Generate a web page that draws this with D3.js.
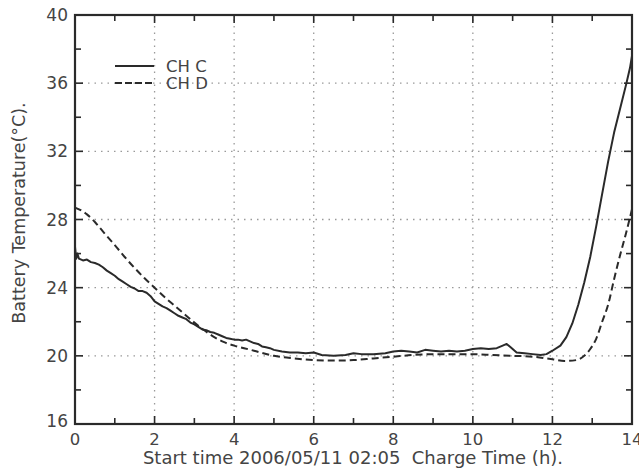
<!DOCTYPE html>
<html>
<head>
<meta charset="utf-8">
<style>
  body { margin: 0; padding: 0; background: #fff; }
  svg { display: block; font-family: "DejaVu Sans", Verdana, sans-serif; }
</style>
<script src="https://d3js.org/d3.v7.min.js"></script>
</head>
<body>
<svg id="chart" width="639" height="472"></svg>
<script>
// CH C (solid) — hours and temperature
const hoursC = [0, 0.03, 0.06, 0.1, 0.2, 0.3, 0.4, 0.5, 0.6, 0.7, 0.8, 0.9, 1.0, 1.1, 1.2, 1.3, 1.4, 1.5, 1.6, 1.7,
  1.8, 1.9, 2.0, 2.1, 2.2, 2.3, 2.4, 2.5, 2.6, 2.7, 2.8, 2.9, 3.0, 3.1, 3.2, 3.3, 3.4, 3.5, 3.6, 3.7,
  3.8, 3.9, 4.0, 4.1, 4.2, 4.3, 4.4, 4.5, 4.6, 4.7, 4.8, 4.9, 5.0, 5.2, 5.4, 5.6, 5.8, 6.0, 6.2, 6.5,
  6.8, 7.0, 7.2, 7.5, 7.8, 8.0, 8.2, 8.4, 8.6, 8.8, 9.0, 9.2, 9.4, 9.6, 9.8, 10.0, 10.2, 10.4, 10.6, 10.75,
  10.85, 10.95, 11.1, 11.3, 11.5, 11.7, 11.85, 12.0, 12.2, 12.35, 12.5, 12.65, 12.8, 12.95, 13.1, 13.25, 13.4, 13.55, 13.7, 13.85,
  13.95, 14.0];
const tempC = [26.4, 25.7, 26.0, 25.7, 25.6, 25.65, 25.5, 25.45, 25.35, 25.2, 25.0, 24.85, 24.7, 24.5, 24.35, 24.2, 24.05, 23.95, 23.8, 23.8,
  23.7, 23.5, 23.2, 23.05, 22.9, 22.8, 22.65, 22.5, 22.35, 22.25, 22.15, 21.95, 21.85, 21.7, 21.55, 21.5, 21.4, 21.35, 21.25, 21.15,
  21.05, 21.0, 20.95, 20.95, 20.9, 20.95, 20.85, 20.75, 20.7, 20.55, 20.5, 20.45, 20.35, 20.25, 20.2, 20.2, 20.15, 20.2, 20.05, 20.0,
  20.05, 20.15, 20.1, 20.1, 20.15, 20.25, 20.3, 20.25, 20.2, 20.35, 20.3, 20.25, 20.3, 20.25, 20.3, 20.4, 20.45, 20.4, 20.45, 20.6,
  20.7, 20.5, 20.2, 20.15, 20.1, 20.05, 20.1, 20.3, 20.6, 21.1, 21.9, 23.0, 24.3, 25.8, 27.6, 29.5, 31.4, 33.1, 34.5, 35.9,
  36.9, 37.6];

// CH D (dashed)
const hoursD = [0, 0.1, 0.3, 0.5, 0.7, 1.0, 1.25, 1.5, 1.75, 2.0, 2.25, 2.5, 2.75, 3.0, 3.25, 3.5, 3.75, 4.0, 4.25, 4.5,
  5.0, 5.5, 6.0, 6.5, 7.0, 7.5, 8.0, 8.5, 9.0, 9.5, 10.0, 10.5, 11.0, 11.5, 12.0, 12.3, 12.6, 12.8, 12.95, 13.1,
  13.25, 13.4, 13.55, 13.7, 13.85, 14.0];
const tempD = [28.7, 28.6, 28.3, 27.85, 27.3, 26.5, 25.8, 25.15, 24.55, 24.0, 23.45, 22.95, 22.45, 21.95, 21.5, 21.1, 20.8, 20.6, 20.45, 20.3,
  20.0, 19.85, 19.75, 19.72, 19.75, 19.85, 19.95, 20.05, 20.1, 20.1, 20.1, 20.05, 20.0, 19.95, 19.8, 19.7, 19.75, 20.0, 20.4, 21.0,
  22.0, 23.0, 24.5, 25.9, 27.2, 28.6];

const xTicks = [0, 2, 4, 6, 8, 10, 12, 14];
const xMinor = [1, 3, 5, 7, 9, 11, 13];
const yTicks = [16, 20, 24, 28, 32, 36, 40];
const yMinor = [18, 22, 26, 30, 34, 38];
const seriesNames = ['CH C', 'CH D'];

const svg = d3.select('#chart');
const margin = { top: 15, right: 7, bottom: 48, left: 75 };
const width = 639 - margin.left - margin.right;
const height = 472 - margin.top - margin.bottom;

const x = d3.scaleLinear().domain([0, 14]).range([margin.left, margin.left + width]);
const y = d3.scaleLinear().domain([16, 40]).range([margin.top + height, margin.top]);

const ink = '#2a2a2a';
const textColor = '#444';

// grid
const grid = svg.append('g').attr('stroke', '#9a9a9a').attr('stroke-width', 1.3).attr('stroke-dasharray', '1.5,5');
xTicks.slice(1, -1).forEach(t => {
  grid.append('line').attr('x1', x(t)).attr('x2', x(t)).attr('y1', y(16)).attr('y2', y(40));
});
yTicks.slice(1, -1).forEach(t => {
  grid.append('line').attr('x1', x(0)).attr('x2', x(14)).attr('y1', y(t)).attr('y2', y(t));
});

// inward ticks on all four sides
const tk = svg.append('g').attr('stroke', ink).attr('stroke-width', 1.6);
xTicks.concat(xMinor).forEach(t => {
  const len = xTicks.includes(t) ? 8 : 6;
  tk.append('line').attr('x1', x(t)).attr('x2', x(t)).attr('y1', y(16)).attr('y2', y(16) - len);
  tk.append('line').attr('x1', x(t)).attr('x2', x(t)).attr('y1', y(40)).attr('y2', y(40) + len);
});
yTicks.concat(yMinor).forEach(t => {
  const len = yTicks.includes(t) ? 8 : 6;
  tk.append('line').attr('x1', x(0)).attr('x2', x(0) + len).attr('y1', y(t)).attr('y2', y(t));
  tk.append('line').attr('x1', x(14)).attr('x2', x(14) - len).attr('y1', y(t)).attr('y2', y(t));
});

// tick labels
svg.append('g').selectAll('text').data(xTicks).enter().append('text')
  .attr('x', d => x(d)).attr('y', y(16) + 21)
  .attr('text-anchor', 'middle').attr('font-size', 16.5).attr('fill', textColor)
  .text(d => d);
svg.append('g').selectAll('text').data(yTicks).enter().append('text')
  .attr('x', x(0) - 7).attr('y', d => y(d) + (d === 16 ? 3 : 6))
  .attr('text-anchor', 'end').attr('font-size', 17).attr('fill', textColor)
  .text(d => d);

// axis titles
svg.append('text')
  .attr('x', 353).attr('y', 464)
  .attr('text-anchor', 'middle').attr('font-size', 18).attr('fill', textColor)
  .attr('xml:space', 'preserve')
  .text('Start time 2006/05/11 02:05  Charge Time (h).');
svg.append('text')
  .attr('transform', 'translate(25, 213) rotate(-90)')
  .attr('text-anchor', 'middle').attr('font-size', 17.5).attr('fill', textColor)
  .text('Battery Temperature(°C).');

// data lines
const ptsC = hoursC.map((h, i) => [h, tempC[i]]);
const ptsD = hoursD.map((h, i) => [h, tempD[i]]);

svg.append('path')
  .datum(ptsD)
  .attr('fill', 'none').attr('stroke', ink).attr('stroke-width', 2)
  .attr('stroke-dasharray', '7,4')
  .attr('d', d3.line().x(d => x(d[0])).y(d => y(d[1])).curve(d3.curveMonotoneX));

svg.append('path')
  .datum(ptsC)
  .attr('fill', 'none').attr('stroke', ink).attr('stroke-width', 2)
  .attr('stroke-linejoin', 'round')
  .attr('d', d3.line().x(d => x(d[0])).y(d => y(d[1])));

// frame
svg.append('rect')
  .attr('x', x(0)).attr('y', y(40)).attr('width', x(14) - x(0)).attr('height', y(16) - y(40))
  .attr('fill', 'none').attr('stroke', ink).attr('stroke-width', 2.2);

// legend
const legend = svg.append('g');
seriesNames.forEach((name, i) => {
  const ly = 66 + i * 17;
  legend.append('line')
    .attr('x1', 115).attr('x2', 154).attr('y1', ly).attr('y2', ly)
    .attr('stroke', ink).attr('stroke-width', 2)
    .attr('stroke-dasharray', i === 1 ? '7,3' : null);
  legend.append('text')
    .attr('x', 166).attr('y', ly + 6)
    .attr('font-size', 16.5).attr('fill', textColor)
    .text(name);
});
</script>
</body>
</html>
